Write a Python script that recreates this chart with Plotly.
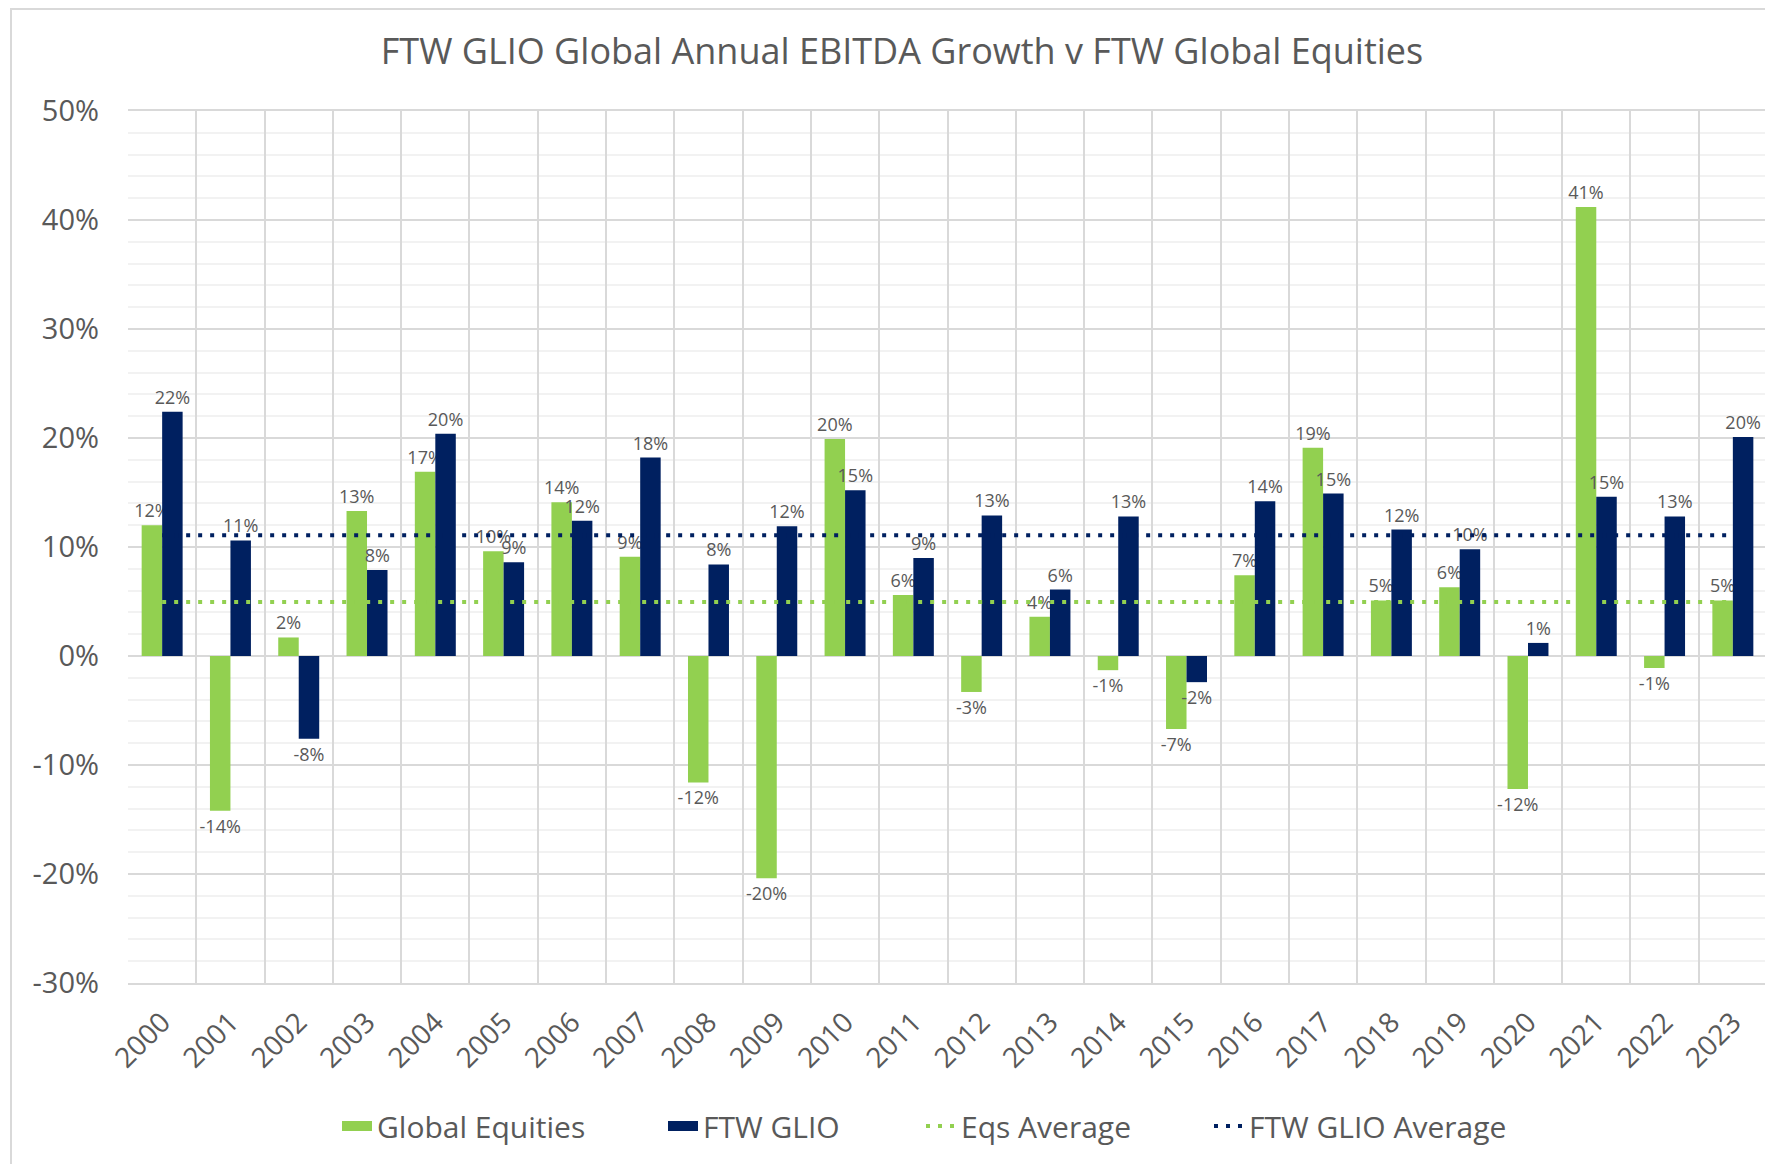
import plotly.graph_objects as go

years = [str(y) for y in range(2000, 2024)]
global_equities = [12.0, -14.2, 1.7, 13.3, 16.9, 9.6, 14.1, 9.1, -11.6, -20.4, 19.9, 5.6,
                   -3.3, 3.6, -1.3, -6.7, 7.4, 19.1, 5.1, 6.3, -12.2, 41.2, -1.1, 5.1]
ftw_glio = [22.4, 10.6, -7.6, 7.9, 20.4, 8.6, 12.4, 18.2, 8.4, 11.9, 15.2, 9.0,
            12.9, 6.1, 12.8, -2.4, 14.2, 14.9, 11.6, 9.8, 1.2, 14.6, 12.8, 20.1]
eqs_average = 4.96
glio_average = 11.08
y_ticks = [-30, -20, -10, 0, 10, 20, 30, 40, 50]
y_tick_labels = ["-30%", "-20%", "-10%", "0%", "10%", "20%", "30%", "40%", "50%"]

GREEN = "#92D050"
NAVY = "#002060"
TXT = "#595959"
FONT = "Open Sans"

# page body has an 8px margin, so the figure is offset by 8px
OFF = 8
W, H = 1773 - OFF, 1164 - OFF
L, T = 128 - OFF, 111 - OFF
R = W - (1767 - OFF)
B = H - (983 - OFF)
pw, ph = W - L - R, H - T - B

fig = go.Figure()
fig.add_trace(go.Bar(
    x=years, y=global_equities, name="Global Equities", marker_color=GREEN,
    marker_line_width=0, texttemplate="%{y:.0f}%", textposition="outside",
    textfont=dict(size=18, color=TXT, family=FONT), cliponaxis=False,
    constraintext="none", showlegend=False, legendgroup="eq"))
fig.add_trace(go.Bar(
    x=years, y=ftw_glio, name="FTW GLIO", marker_color=NAVY,
    marker_line_width=0, texttemplate="%{y:.0f}%", textposition="outside",
    textfont=dict(size=18, color=TXT, family=FONT), cliponaxis=False,
    constraintext="none", showlegend=False, legendgroup="glio"))
# legend swatches for the bar series (wide rectangles like the original)
fig.add_trace(go.Scatter(
    x=[None], y=[None], mode="lines", name="Global Equities", legendgroup="eq",
    line=dict(color=GREEN, width=20), legend="legend"))
fig.add_trace(go.Scatter(
    x=[None], y=[None], mode="lines", name="FTW GLIO", legendgroup="glio",
    line=dict(color=NAVY, width=20), legend="legend2"))
fig.add_trace(go.Scatter(
    x=years, y=[eqs_average] * len(years), name="Eqs Average", mode="lines",
    line=dict(color=GREEN, width=4, dash="4px,8px"), hoverinfo="skip",
    legend="legend3"))
fig.add_trace(go.Scatter(
    x=years, y=[glio_average] * len(years), name="FTW GLIO Average", mode="lines",
    line=dict(color=NAVY, width=4, dash="4px,8px"), hoverinfo="skip",
    legend="legend4"))


def legend_at(symbol_left_abs):
    return dict(orientation="h", x=(symbol_left_abs - 5 - OFF - L) / pw, xanchor="left",
                y=-(1126 - 983) / ph, yanchor="middle",
                font=dict(size=30, color=TXT, family=FONT),
                bgcolor="rgba(0,0,0,0)")


fig.update_layout(
    width=W, height=H,
    margin=dict(l=L, r=R, t=T, b=B, autoexpand=False),
    paper_bgcolor="white", plot_bgcolor="white",
    font=dict(family=FONT, color=TXT),
    barmode="group", bargap=0.4, bargroupgap=0,
    title=dict(text="FTW GLIO Global Annual EBITDA Growth v FTW Global Equities",
               x=(902 - OFF) / W, xanchor="center", xref="container",
               y=1 - (51 - OFF) / H, yanchor="middle", yref="container",
               font=dict(size=36, color=TXT, family=FONT)),
    showlegend=True,
    legend=legend_at(342),
    legend2=legend_at(668),
    legend3=legend_at(926),
    legend4=legend_at(1214),
    shapes=[dict(type="rect", xref="paper", yref="paper",
                 x0=(11 - 128) / pw, x1=(1773 + 20 - 128) / pw,
                 y0=-(1164 + 20 - 983) / ph, y1=1 + (111 - 9) / ph,
                 line=dict(color="#d9d9d9", width=2), fillcolor="rgba(0,0,0,0)",
                 layer="below")],
)
fig.update_xaxes(
    type="category", tickangle=-45, tickson="boundaries", showgrid=True,
    gridcolor="#d9d9d9", gridwidth=1.5, ticks="", showline=True, mirror=True,
    linecolor="#d9d9d9", linewidth=1.5, ticklabelstandoff=10,
    tickfont=dict(size=28, color=TXT, family=FONT), range=[-0.5, 23.5])
fig.update_yaxes(
    range=[-30, 50], tickvals=y_ticks, ticktext=y_tick_labels, showgrid=True,
    gridcolor="#d9d9d9", gridwidth=1.5, zeroline=True, zerolinecolor="#d9d9d9",
    zerolinewidth=1.5, ticks="", ticklabelstandoff=28,
    minor=dict(dtick=2, showgrid=True, gridcolor="#f2f2f2", gridwidth=1.5),
    tickfont=dict(size=29, color=TXT, family=FONT))

fig.write_html("out.html")
